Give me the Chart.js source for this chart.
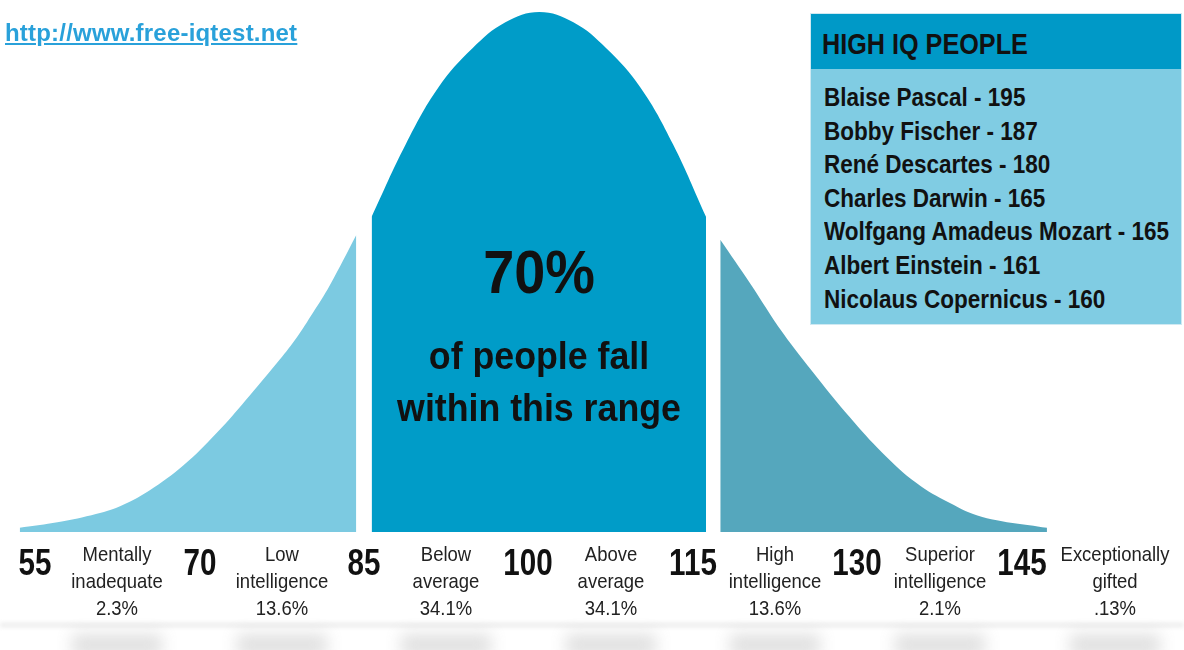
<!DOCTYPE html>
<html>
<head>
<meta charset="utf-8">
<script src="https://cdn.jsdelivr.net/npm/chart.js@4/dist/chart.umd.min.js"></script>
<style>
  html, body { margin: 0; padding: 0; background: #fff; }
  #wrap { position: relative; width: 1184px; height: 650px; overflow: hidden; font-family: 'Liberation Sans', Arial, sans-serif; }
  #myChart { position: absolute; left: 0; top: 0; }
  .txt { position: absolute; white-space: nowrap; }
  .c { transform: translateX(-50%) scaleX(0.86); text-align: center; }
  .l { transform-origin: 0 50%; transform: scaleX(0.9); }
  .num { font-weight: bold; font-size: 37px; line-height: 40px; color: #111; top: 543px; transform: translateX(-50%) scaleX(0.8); }
  .band { font-size: 21px; line-height: 27px; color: #222; top: 540px; transform: translateX(-50%) scaleX(0.88); text-align: center; }
  .blob { position: absolute; top: 634px; height: 22px; background: #999; filter: blur(8px); opacity: 0.3; }
  #shade { position: absolute; left: 0; top: 623px; width: 1184px; height: 4px; background: #ddd; filter: blur(2px); opacity: 0.6; }
  #box { position: absolute; left: 810px; top: 13px; width: 370px; height: 310px; background: #80cce3; border: 1px solid #cfe9f2; }
  #boxHead { position: absolute; left: 0; top: 0; width: 370px; height: 55px; background: #0099c7; }
</style>
</head>
<body>
<div id="wrap">
  <canvas id="myChart" width="1184" height="650"></canvas>
  <div id="shade"></div>
  <div id="box"><div id="boxHead"></div></div>
</div>
<script>
// curve: IQ and relative height (peak = 100)
const leftIQ = [53.6, 56.6, 59.7, 62.8, 65.8, 68.9, 71.9, 74.6, 77.3, 78.9, 80.3, 81.9, 84.3];
const leftHeight = [0.8, 1.7, 3.0, 5.0, 8.5, 13.5, 19.8, 26.3, 33.1, 37.5, 42.0, 47.5, 57.1];
const middleIQ = [85.7, 88.8, 91.8, 94.9, 97.9, 101.0, 104.1, 107.1, 110.2, 113.2, 116.2];
const middleHeight = [60.6, 74.5, 85.5, 93.0, 98.0, 100, 98.0, 93.0, 85.5, 74.5, 60.6];
const rightIQ = [117.5, 120.2, 123.2, 126.3, 129.3, 132.3, 135.4, 138.4, 141.4, 147.3];
const rightHeight = [56.2, 47.9, 38.3, 29.8, 22.1, 15.2, 9.4, 5.6, 2.9, 0.8];

const tickValues = [55, 70, 85, 100, 115, 130, 145];
const bandNames = [['Mentally', 'inadequate'], ['Low', 'intelligence'], ['Below', 'average'], ['Above', 'average'],
                   ['High', 'intelligence'], ['Superior', 'intelligence'], ['Exceptionally', 'gifted']];
const bandShares = ['2.3%', '13.6%', '34.1%', '34.1%', '13.6%', '2.1%', '.13%'];

const famousNames = ['Blaise Pascal', 'Bobby Fischer', 'René Descartes', 'Charles Darwin',
                     'Wolfgang Amadeus Mozart', 'Albert Einstein', 'Nicolaus Copernicus'];
const famousIQ = [195, 187, 180, 165, 165, 161, 160];

function pts(xs, ys) {
  return xs.map((x, i) => ({ x: x, y: ys[i] }));
}

function area(xs, ys, color) {
  return {
    data: pts(xs, ys),
    fill: 'origin',
    backgroundColor: color,
    borderWidth: 0,
    pointRadius: 0,
    tension: 0.4
  };
}

const wrap = document.getElementById('wrap');

function addText(cls, html, left, top, css) {
  const d = document.createElement('div');
  d.className = 'txt ' + cls;
  d.innerHTML = html;
  d.style.left = left + 'px';
  if (top !== null) d.style.top = top + 'px';
  if (css) d.style.cssText += css;
  wrap.appendChild(d);
  return d;
}

// html labels placed with the chart's own x scale
const labelPlugin = {
  id: 'labels',
  afterRender(chart) {
    if (chart.$labelsDone) return;
    chart.$labelsDone = true;
    const sx = chart.scales.x;
    const peak = middleIQ[middleHeight.indexOf(Math.max(...middleHeight))];
    const mid = sx.getPixelForValue(peak);

    tickValues.forEach((t, i) => {
      const px = sx.getPixelForValue(t);
      addText('num', String(t), px, null);
      const next = i < tickValues.length - 1 ? tickValues[i + 1] : t + 17;
      const bx = sx.getPixelForValue((t + next) / 2);
      addText('band', bandNames[i][0] + '<br>' + bandNames[i][1] + '<br>' + bandShares[i], bx, null);
      const b = document.createElement('div');
      b.className = 'blob';
      b.style.left = (bx - 45) + 'px';
      b.style.width = '90px';
      wrap.appendChild(b);
    });

    addText('c', '70%', mid, 238, 'font-weight:bold;font-size:62px;line-height:68px;color:#111;transform:translateX(-50%) scaleX(0.9);');
    addText('c', 'of people fall', mid, 333, 'font-weight:bold;font-size:38px;line-height:46px;color:#111;transform:translateX(-50%) scaleX(0.94);');
    addText('c', 'within this range', mid, 385, 'font-weight:bold;font-size:38px;line-height:46px;color:#111;transform:translateX(-50%) scaleX(0.94);');
  }
};

// static texts
addText('', '<u>http://www.free-iqtest.net</u>', 5, 18, 'font-weight:bold;font-size:24px;line-height:30px;color:#29a1da;letter-spacing:0.2px;');
addText('l', 'HIGH IQ PEOPLE', 822, 25, 'font-weight:bold;font-size:30px;line-height:38px;color:#111;transform:scaleX(0.84);');
famousNames.forEach((n, i) => {
  addText('l', n + ' - ' + famousIQ[i], 824, 82 + i * 33.6, 'font-weight:bold;font-size:25px;line-height:30px;color:#111;');
});

const ctx = document.getElementById('myChart');

const myChart = new Chart(ctx, {
  type: 'line',
  data: {
    datasets: [
      area(leftIQ, leftHeight, '#7ccae1'),
      area(middleIQ, middleHeight, '#009cc8'),
      area(rightIQ, rightHeight, '#55a7bd')
    ]
  },
  options: {
    responsive: false,
    animation: false,
    layout: { padding: 0 },
    plugins: { legend: { display: false }, tooltip: { enabled: false } },
    scales: {
      x: { type: 'linear', min: 51.8, max: 159.8, display: false },
      y: { min: -22.7, max: 102.3, display: false }
    }
  },
  plugins: [labelPlugin]
});
</script>
</body>
</html>
